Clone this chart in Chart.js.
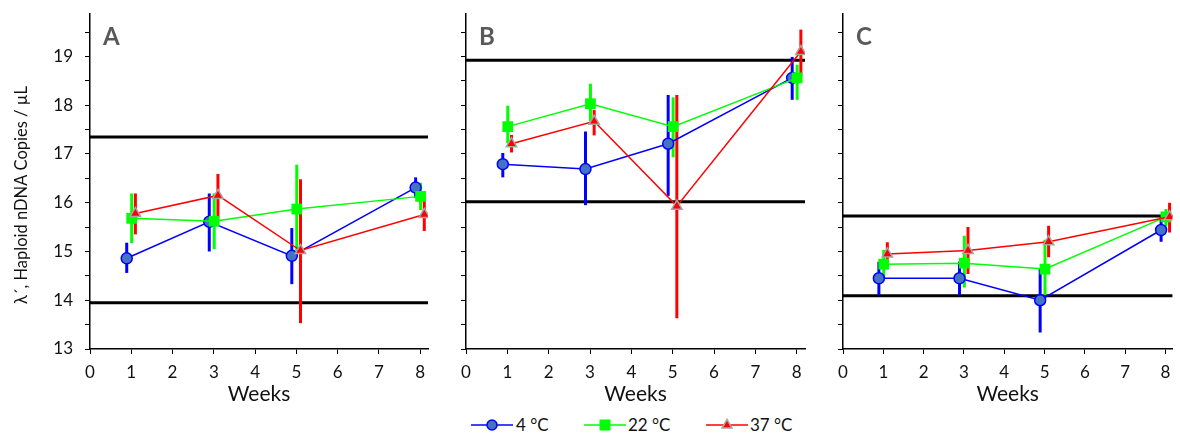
<!DOCTYPE html>
<html><head><meta charset="utf-8">
<script src="https://cdn.jsdelivr.net/npm/chart.js@4.4.1/dist/chart.umd.min.js"></script>
<style>
html,body{margin:0;padding:0;background:#fff;width:1180px;height:433px;overflow:hidden;font-family:Lato,sans-serif;}
canvas{position:absolute;top:0;}
#cA{left:0} #cB{left:440px} #cC{left:830px}
.lsym{position:absolute;top:417px;}
.ltxt{position:absolute;top:415px;font-size:17px;line-height:20px;color:#111;white-space:nowrap;}
</style></head><body>
<canvas id="cA" width="440" height="410"></canvas>
<canvas id="cB" width="390" height="410"></canvas>
<canvas id="cC" width="350" height="410"></canvas>
<div id="legend"></div>
<script>
// ---------- data ----------
const weeks = [1, 3, 5, 8];
const seriesNames = ['4 °C', '22 °C', '37 °C'];
const panelNames = ['A', 'B', 'C'];
const xTicks = [0, 1, 2, 3, 4, 5, 6, 7, 8];
const yTicks = [13, 13.5, 14, 14.5, 15, 15.5, 16, 16.5, 17, 17.5, 18, 18.5, 19, 19.5];
const yTickLabels = ['13', '', '14', '', '15', '', '16', '', '17', '', '18', '', '19', ''];
const yTitle = 'λ´, Haploid nDNA Copies / µL';
const xTitle = 'Weeks';

// Panel A
const aBlue   = [14.86, 15.61, 14.91, 16.31];
const aBlueLo = [14.56, 15.00, 14.33, 16.10];
const aBlueHi = [15.18, 16.19, 15.48, 16.52];
const aGreen   = [15.68, 15.62, 15.87, 16.13];
const aGreenLo = [15.17, 15.05, 15.00, 15.85];
const aGreenHi = [16.19, 16.19, 16.78, 16.41];
const aRed   = [15.78, 16.15, 15.02, 15.76];
const aRedLo = [15.35, 15.70, 13.53, 15.42];
const aRedHi = [16.19, 16.59, 16.48, 16.10];
const aRefs = [17.35, 13.95];

// Panel B
const bBlue   = [16.79, 16.69, 17.21, 18.56];
const bBlueLo = [16.52, 15.95, 16.14, 18.11];
const bBlueHi = [17.02, 17.46, 18.21, 18.99];
const bGreen   = [17.56, 18.03, 17.56, 18.56];
const bGreenLo = [17.22, 17.67, 16.93, 18.11];
const bGreenHi = [17.99, 18.44, 18.16, 18.83];
const bRed   = [17.21, 17.67, 15.93, 19.10];
const bRedLo = [17.03, 17.38, 13.63, 18.59];
const bRedHi = [17.39, 17.90, 18.21, 19.55];
const bRefs = [18.92, 16.02];

// Panel C
const cBlue   = [14.45, 14.45, 14.00, 15.44];
const cBlueLo = [14.10, 14.10, 13.34, 15.20];
const cBlueHi = [14.79, 14.79, 14.65, 15.71];
const cGreen   = [14.74, 14.76, 14.64, 15.71];
const cGreenLo = [14.45, 14.26, 14.10, 15.51];
const cGreenHi = [15.03, 15.32, 15.24, 15.87];
const cRed   = [14.95, 15.02, 15.20, 15.71];
const cRedLo = [14.76, 14.54, 14.88, 15.39];
const cRedHi = [15.19, 15.50, 15.53, 16.00];
const cRefs = [15.73, 14.09];

// ---------- styles ----------
const TXT = '#111';
const styles = [
  {color: '#0000FF', style: 'circle', radius: 5.5, bg: '#4472C4', border: '#0000FF', bw: 1.5, dx: -0.11, order: 3},
  {color: '#00FF00', style: 'rect', radius: 7.6, bg: '#00FF00', border: '#00FF00', bw: 0, dx: 0.01, order: 2},
  {color: '#FF0000', style: 'triangle', radius: 6, bg: '#FF0000', border: '#A6A6A6', bw: 1.5, dx: 0.10, order: 1}
];

const errorBarPlugin = {
  id: 'errorBars',
  beforeDatasetDraw(chart, args) {
    const ds0 = chart.data.datasets[args.index];
    if (!ds0.firstSeries) return;
    const ctx = chart.ctx, ys = chart.scales.y;
    ctx.save();
    ctx.beginPath();
    ctx.rect(chart.chartArea.left, chart.chartArea.top, chart.chartArea.right - chart.chartArea.left, chart.chartArea.bottom - chart.chartArea.top);
    ctx.clip();
    chart.data.datasets.forEach((ds, di) => {
      if (!ds.errLo) return;
      const meta = chart.getDatasetMeta(di);
      ctx.strokeStyle = ds.borderColor;
      ctx.lineWidth = 3;
      ctx.lineCap = 'butt';
      meta.data.forEach((pt, i) => {
        ctx.beginPath();
        ctx.moveTo(pt.x, ys.getPixelForValue(ds.errLo[i]));
        ctx.lineTo(pt.x, ys.getPixelForValue(ds.errHi[i]));
        ctx.stroke();
      });
    });
    ctx.restore();
  }
};

const labelPlugin = {
  id: 'panelLabel',
  afterDraw(chart, args, opts) {
    const ctx = chart.ctx, ca = chart.chartArea;
    ctx.save();
    ctx.font = 'bold 24px Lato';
    ctx.fillStyle = '#595959';
    ctx.textAlign = 'left';
    ctx.textBaseline = 'middle';
    ctx.fillText(opts.text, ca.left + 13, ca.top + 23);
    if (opts.yTitle) {
      ctx.font = '16.5px Lato';
      ctx.fillStyle = TXT;
      ctx.translate(22, 195);
      ctx.rotate(-Math.PI / 2);
      ctx.textAlign = 'center';
      ctx.fillText(opts.yTitle, 0, 0);
    }
    ctx.restore();
  }
};

function makePanel(id, name, vals, los, his, refs, opt) {
  const datasets = [];
  refs.forEach(v => datasets.push({
    type: 'line', data: [{x: 0, y: v}, {x: opt.xmax, y: v}],
    borderColor: '#000', borderWidth: 3, pointRadius: 0, order: 10, clip: false
  }));
  vals.forEach((arr, s) => {
    const st = styles[s];
    datasets.push({
      label: seriesNames[s],
      data: weeks.map((w, i) => ({x: w + st.dx, y: arr[i]})),
      errLo: los[s], errHi: his[s], firstSeries: s === 0,
      borderColor: st.color, borderWidth: 1.5,
      pointStyle: st.style, pointRadius: st.radius,
      pointBackgroundColor: st.bg, pointBorderColor: st.border, pointBorderWidth: st.bw,
      order: st.order
    });
  });
  return new Chart(document.getElementById(id), {
    type: 'line',
    data: {datasets},
    plugins: [errorBarPlugin, labelPlugin],
    options: {
      responsive: false, animation: false, events: [], devicePixelRatio: 1,
      layout: {padding: {top: 14, right: opt.padRight, left: 0, bottom: 0}},
      plugins: {legend: {display: false}, tooltip: {enabled: false},
        panelLabel: {text: name, yTitle: opt.showY ? yTitle : null}},
      scales: {
        x: {
          type: 'linear', min: 0, max: opt.xmax,
          afterBuildTicks: sc => { sc.ticks = xTicks.map(v => ({value: v})); },
          afterFit: sc => { sc.height = 61; sc.paddingLeft = 0; sc.paddingRight = 0; },
          grid: {drawOnChartArea: false, drawTicks: true, tickLength: 5, color: '#000', lineWidth: 1},
          border: {display: true, color: '#000', width: 1.5},
          ticks: {font: {size: 17, family: 'Lato'}, color: TXT, padding: 8, maxRotation: 0,
            callback: v => String(v)},
          title: {display: true, text: xTitle, font: {size: 21, family: 'Lato'}, color: TXT, padding: {top: 0, bottom: 3}}
        },
        y: {
          type: 'linear', min: 13, max: 19.87,
          afterBuildTicks: sc => { sc.ticks = yTicks.map(v => ({value: v})); },
          afterFit: sc => { sc.width = opt.yWidth; sc.paddingTop = 0; sc.paddingBottom = 0; },
          grid: {drawOnChartArea: false, drawTicks: true, tickLength: 5, color: '#000', lineWidth: 1},
          border: {display: true, color: '#000', width: 1.5},
          ticks: {font: {size: 17, family: 'Lato'}, color: TXT, padding: 12, autoSkip: false,
            callback: (v, i) => opt.showY ? yTickLabels[yTicks.indexOf(v)] : ''}
        }
      }
    }
  });
}

function legendSvg(st) {
  let m = '';
  if (st.style === 'circle') m = `<circle cx="21" cy="8" r="5" fill="${st.bg}" stroke="${st.border}" stroke-width="1.5"/>`;
  else if (st.style === 'rect') m = `<rect x="15.5" y="2.5" width="11" height="11" fill="${st.bg}"/>`;
  else m = `<polygon points="21,2.5 26,11 16,11" fill="${st.bg}" stroke="${st.border}" stroke-width="1.5"/>`;
  return `<svg width="42" height="16"><line x1="0" y1="8" x2="42" y2="8" stroke="${st.color}" stroke-width="1.5"/>${m}</svg>`;
}

function build() {
  makePanel('cA', panelNames[0], [aBlue, aGreen, aRed], [aBlueLo, aGreenLo, aRedLo], [aBlueHi, aGreenHi, aRedHi], aRefs,
    {xmax: 8.19, padRight: 12, yWidth: 90, showY: true});
  makePanel('cB', panelNames[1], [bBlue, bGreen, bRed], [bBlueLo, bGreenLo, bRedLo], [bBlueHi, bGreenHi, bRedHi], bRefs,
    {xmax: 8.2, padRight: 25, yWidth: 26, showY: false});
  makePanel('cC', panelNames[2], [cBlue, cGreen, cRed], [cBlueLo, cGreenLo, cRedLo], [cBlueHi, cGreenHi, cRedHi], cRefs,
    {xmax: 8.17, padRight: 0, yWidth: 13, showY: false});
  const symLeft = [471, 584, 706], txtLeft = [516, 628, 750];
  let html = '';
  styles.forEach((st, i) => {
    html += `<div class="lsym" style="left:${symLeft[i]}px">${legendSvg(st)}</div>`;
    html += `<div class="ltxt" style="left:${txtLeft[i]}px">${seriesNames[i]}</div>`;
  });
  document.getElementById('legend').innerHTML = html;
}
if (document.fonts && document.fonts.load) {
  Promise.all([document.fonts.load('17px Lato'), document.fonts.load('bold 24px Lato')]).then(build, build);
} else build();
</script>
</body></html>
